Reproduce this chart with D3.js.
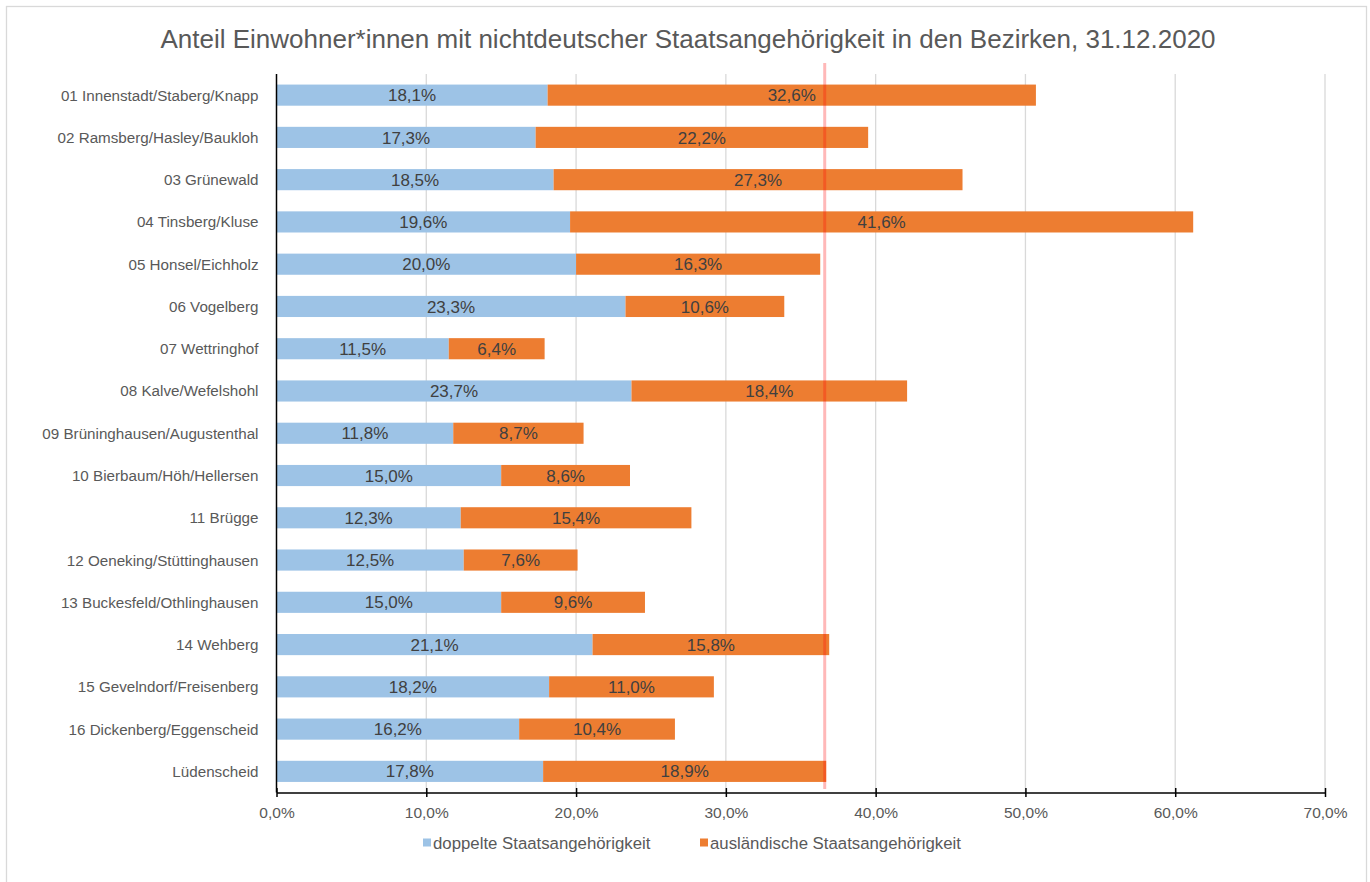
<!DOCTYPE html>
<html><head><meta charset="utf-8">
<script src="https://cdn.jsdelivr.net/npm/d3@7"></script>
<style>body{margin:0;background:#fff;}svg{display:block;}</style>
</head><body>
<svg id="c" width="1370" height="882"></svg>
<script>
const categories = ["01 Innenstadt/Staberg/Knapp","02 Ramsberg/Hasley/Baukloh","03 Grünewald","04 Tinsberg/Kluse","05 Honsel/Eichholz","06 Vogelberg","07 Wettringhof","08 Kalve/Wefelshohl","09 Brüninghausen/Augustenthal","10 Bierbaum/Höh/Hellersen","11 Brügge","12 Oeneking/Stüttinghausen","13 Buckesfeld/Othlinghausen","14 Wehberg","15 Gevelndorf/Freisenberg","16 Dickenberg/Eggenscheid","Lüdenscheid"];
const doppelte = [18.1,17.3,18.5,19.6,20.0,23.3,11.5,23.7,11.8,15.0,12.3,12.5,15.0,21.1,18.2,16.2,17.8];
const auslaendische = [32.6,22.2,27.3,41.6,16.3,10.6,6.4,18.4,8.7,8.6,15.4,7.6,9.6,15.8,11.0,10.4,18.9];
const seriesNames = ["doppelte Staatsangehörigkeit","ausländische Staatsangehörigkeit"];
const xTicks = [0,10,20,30,40,50,60,70];
const referenceLine = 36.6;
const title = "Anteil Einwohner*innen mit nichtdeutscher Staatsangehörigkeit in den Bezirken, 31.12.2020";

const colors = ["#9dc3e6","#ed7d31"];
const font = "'Liberation Sans', Arial, sans-serif";
const svg = d3.select("#c");
const L = 276.5, R = 1325, T = 74, B = 792.5;

svg.append("rect").attr("x",6.5).attr("y",6.5).attr("width",1360).attr("height",900)
  .attr("fill","#fff").attr("stroke","#d9d9d9").attr("stroke-width",1.3);

const x = d3.scaleLinear().domain([0,70]).range([L,R]);
const y = d3.scaleBand().domain(categories).range([T,B]).paddingInner(0.5).paddingOuter(0.25);

svg.append("text").attr("x",688).attr("y",48).attr("text-anchor","middle")
  .attr("font-family",font).attr("font-size",26).attr("fill","#595959").text(title);

// gridlines
svg.append("g").selectAll("line").data(xTicks.slice(1)).join("line")
  .attr("x1",d=>x(d)).attr("x2",d=>x(d)).attr("y1",T).attr("y2",B)
  .attr("stroke","#d9d9d9").attr("stroke-width",1.3);

const data = categories.map((c,i)=>({cat:c, a:doppelte[i], b:auslaendische[i]}));
const stack = d3.stack().keys(["a","b"])(data);

const g = svg.append("g");
stack.forEach((s,si)=>{
  g.append("g").selectAll("rect").data(s).join("rect")
    .attr("x",d=>x(d[0])).attr("width",d=>x(d[1])-x(d[0]))
    .attr("y",d=>y(d.data.cat)).attr("height",y.bandwidth())
    .attr("fill",colors[si]);
  g.append("g").selectAll("text").data(s).join("text")
    .attr("x",d=>(x(d[0])+x(d[1]))/2).attr("y",d=>y(d.data.cat)+y.bandwidth()/2)
    .attr("dy","0.36em").attr("text-anchor","middle")
    .attr("font-family",font).attr("font-size",17).attr("fill","#404040")
    .text(d=>d3.format(".1f")(d[1]-d[0]).replace(".",",")+"%");
});

// reference line
svg.append("line").attr("x1",x(referenceLine)).attr("x2",x(referenceLine))
  .attr("y1",63).attr("y2",789).attr("stroke","rgba(255,0,0,0.28)").attr("stroke-width",3);

// y axis
svg.append("line").attr("x1",L).attr("x2",L).attr("y1",T).attr("y2",B).attr("stroke","#000").attr("stroke-width",1.5);
svg.append("g").selectAll("text").data(categories).join("text")
  .attr("x",L-18).attr("y",d=>y(d)+y.bandwidth()/2).attr("dy","0.36em")
  .attr("text-anchor","end").attr("font-family",font).attr("font-size",15.2).attr("fill","#595959")
  .text(d=>d);

// x axis
const xa = svg.append("g").attr("transform",`translate(0,${B})`)
  .call(d3.axisBottom(x).tickValues(xTicks).tickSize(0).tickPadding(0).tickFormat(d=>d3.format(".1f")(d).replace(".",",")+"%"));
xa.select(".domain").attr("stroke","#000").attr("stroke-width",1.5);
xa.selectAll(".tick line").remove();
xa.selectAll(".tick").append("line").attr("y1",-4.5).attr("y2",4.5).attr("stroke","#000").attr("stroke-width",1.5);
xa.selectAll(".tick text").attr("y",20).attr("dy","0.36em").attr("font-family",font).attr("font-size",15.5).attr("fill","#595959");

// legend
const leg = [{x:423, name:seriesNames[0], c:colors[0]},{x:700, name:seriesNames[1], c:colors[1]}];
const lg = svg.append("g").selectAll("g").data(leg).join("g");
lg.append("rect").attr("x",d=>d.x).attr("y",838.5).attr("width",8).attr("height",8).attr("fill",d=>d.c);
lg.append("text").attr("x",d=>d.x+10).attr("y",843).attr("dy","0.36em")
  .attr("font-family",font).attr("font-size",16.8).attr("fill","#595959").text(d=>d.name);
</script>
</body></html>
